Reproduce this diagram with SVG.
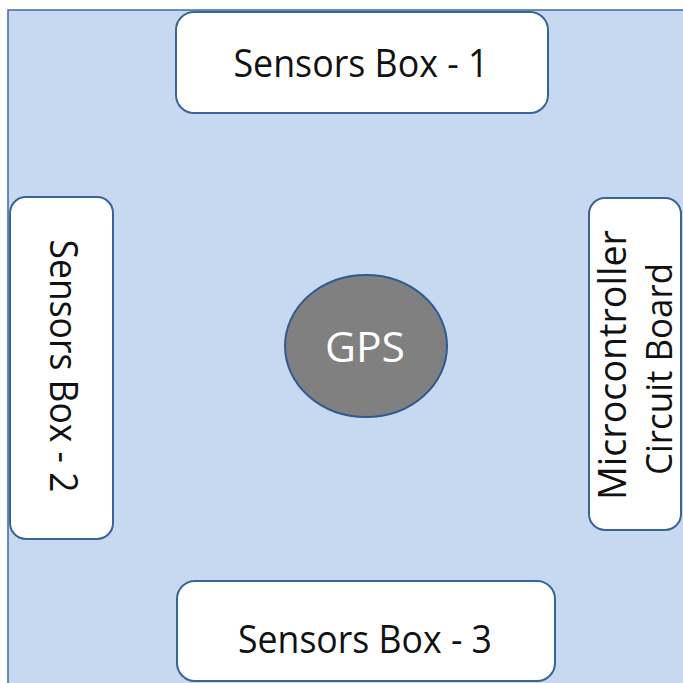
<svg xmlns="http://www.w3.org/2000/svg" width="683" height="683" viewBox="0 0 683 683">
  <style>
    .bg { fill: #c6d9f0; stroke: #3f6b9e; stroke-width: 1.5; }
    .box { fill: #ffffff; stroke: #3a6496; stroke-width: 2; }
    .lbl { font-family: "Open Sans", "Liberation Sans", sans-serif; font-size: 38px; fill: #111111; text-anchor: middle; }
    .lbl2 { font-family: "Open Sans", "Liberation Sans", sans-serif; font-size: 36px; fill: #111111; text-anchor: middle; }
    .gps { fill: #808080; stroke: #2f5a8f; stroke-width: 2; }
    .gpst { font-family: "Open Sans", "Liberation Sans", sans-serif; font-size: 42px; fill: #ffffff; text-anchor: middle; }
  </style>
  <rect class="bg" x="8" y="10" width="690" height="690"/>
  <g id="connectors"></g>
  <g id="sensors-box-1">
    <rect class="box" x="176" y="12" width="372" height="101" rx="18"/>
    <text class="lbl" x="361" y="77" textLength="255" lengthAdjust="spacingAndGlyphs">Sensors Box - 1</text>
  </g>
  <g id="sensors-box-2">
    <rect class="box" x="10" y="197" width="103" height="342" rx="16"/>
    <text class="lbl" transform="translate(50,366) rotate(90)" x="0" y="0" textLength="253" lengthAdjust="spacingAndGlyphs">Sensors Box - 2</text>
  </g>
  <g id="microcontroller">
    <rect class="box" x="589" y="198" width="92" height="332" rx="16"/>
    <text class="lbl" transform="translate(626,365) rotate(-90)" x="0" y="0" textLength="270" lengthAdjust="spacingAndGlyphs">Microcontroller</text>
    <text class="lbl2" transform="translate(672,369) rotate(-90)" x="0" y="0" textLength="212" lengthAdjust="spacingAndGlyphs">Circuit Board</text>
  </g>
  <g id="sensors-box-3">
    <rect class="box" x="177" y="581" width="378" height="100" rx="18"/>
    <text class="lbl" x="365" y="653" textLength="254" lengthAdjust="spacingAndGlyphs">Sensors Box - 3</text>
  </g>
  <g id="gps">
    <ellipse class="gps" cx="366" cy="346" rx="81" ry="71"/>
    <text class="gpst" x="365" y="362" textLength="80" lengthAdjust="spacingAndGlyphs">GPS</text>
  </g>
</svg>
